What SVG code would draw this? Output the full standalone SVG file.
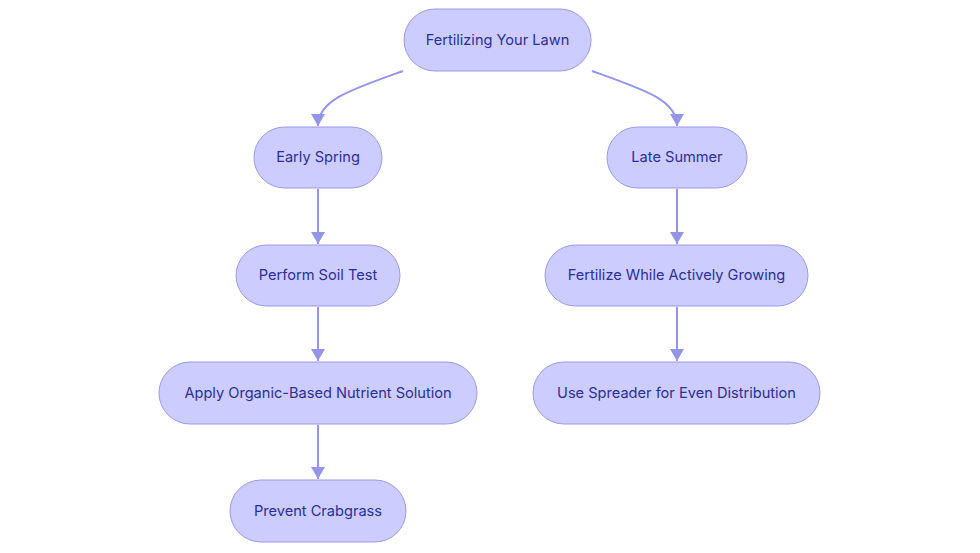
<svg xmlns="http://www.w3.org/2000/svg" width="980" height="553" viewBox="0 0 980 553">
<defs>
<style>
.node rect{fill:#ccccff;stroke:#9a9ae8;stroke-width:1}
.node text{font-family:Inter,"Open Sans",sans-serif;font-size:14.6px;fill:#2b2f96;text-anchor:middle;dominant-baseline:central}
.edge{fill:none;stroke:#9494e8;stroke-width:2}
</style>
<marker id="arr" viewBox="0 0 12 14" refX="12" refY="7" markerWidth="12" markerHeight="14" markerUnits="userSpaceOnUse" orient="auto">
<path d="M0,0 L12,7 L0,14 Z" fill="#9494e8"/>
</marker>
</defs>
<rect width="980" height="553" fill="#ffffff"/>
<g id="edges">
<path class="edge" d="M403,71 C350,90 318,100 318,126" marker-end="url(#arr)"/>
<path class="edge" d="M592,71 C645,90 677,100 677,126" marker-end="url(#arr)"/>
<path class="edge" d="M318,189 L318,244" marker-end="url(#arr)"/>
<path class="edge" d="M677,189 L677,244" marker-end="url(#arr)"/>
<path class="edge" d="M318,307 L318,361" marker-end="url(#arr)"/>
<path class="edge" d="M677,307 L677,361" marker-end="url(#arr)"/>
<path class="edge" d="M318,425 L318,479" marker-end="url(#arr)"/>
</g>
<g id="n-root" class="node"><rect x="404" y="9" width="187" height="62" rx="31"/><text x="497.5" y="39.5">Fertilizing Your Lawn</text></g>
<g id="n-spring" class="node"><rect x="254" y="127" width="128" height="61" rx="30.5"/><text x="318" y="157">Early Spring</text></g>
<g id="n-summer" class="node"><rect x="607" y="127" width="140" height="61" rx="30.5"/><text x="677" y="157">Late Summer</text></g>
<g id="n-soil" class="node"><rect x="236" y="245" width="164" height="61" rx="30.5"/><text x="318" y="275">Perform Soil Test</text></g>
<g id="n-grow" class="node"><rect x="545" y="245" width="263" height="61" rx="30.5"/><text x="676.5" y="275">Fertilize While Actively Growing</text></g>
<g id="n-organic" class="node"><rect x="159" y="362" width="318" height="62" rx="31"/><text x="318" y="392.5">Apply Organic-Based Nutrient Solution</text></g>
<g id="n-spreader" class="node"><rect x="533" y="362" width="287" height="62" rx="31"/><text x="676.5" y="392.5">Use Spreader for Even Distribution</text></g>
<g id="n-crab" class="node"><rect x="230" y="480" width="176" height="62" rx="31"/><text x="318" y="510.5">Prevent Crabgrass</text></g>
</svg>
